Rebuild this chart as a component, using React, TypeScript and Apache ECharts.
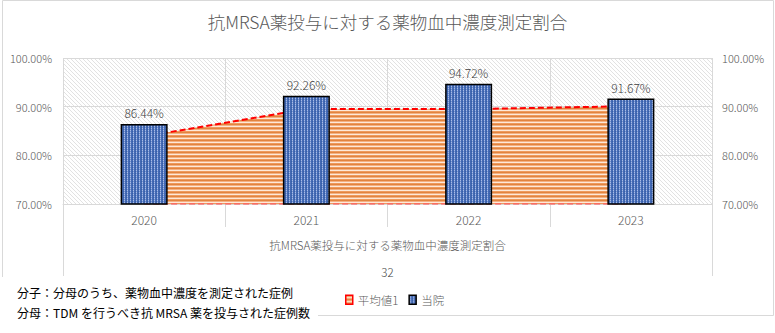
import React, { useEffect, useRef } from 'react';
import * as echarts from 'echarts';

const categories = ['2020', '2021', '2022', '2023'];
const hospitalValues = [86.44, 92.26, 94.72, 91.67];
const averageValues = [83.9, 89.5, 89.5, 90.1];
const yMin = 70;
const yMax = 100;
const yInterval = 10;
const titleText = '抗MRSA薬投与に対する薬物血中濃度測定割合';
const groupLabels = ['抗MRSA薬投与に対する薬物血中濃度測定割合'];
const axisNameText = '32';
const seriesNames = ['平均値1', '当院'];
const noteLines = [
  '分子：分母のうち、薬物血中濃度を測定された症例',
  '分母：TDM を行うべき抗 MRSA 薬を投与された症例数',
];

const FONT = '"Noto Sans CJK JP", "Noto Sans", sans-serif';

function makePattern(w: number, h: number, draw: (ctx: CanvasRenderingContext2D) => void) {
  const c = document.createElement('canvas');
  c.width = w;
  c.height = h;
  const ctx = c.getContext('2d')!;
  draw(ctx);
  return { image: c, repeat: 'repeat' as const };
}

export default function App() {
  const ref = useRef<HTMLDivElement>(null);
  useEffect(() => {
    if (!ref.current) return;
    const chart = echarts.init(ref.current, undefined, { renderer: 'svg' });

    const hatch = makePattern(4, 4, (ctx) => {
      ctx.fillStyle = '#ffffff';
      ctx.fillRect(0, 0, 4, 4);
      ctx.fillStyle = '#e2e2e2';
      for (let i = 0; i < 4; i++) ctx.fillRect(i, i, 1, 1);
    });
    const barPattern = makePattern(3, 2, (ctx) => {
      ctx.fillStyle = '#4469b4';
      ctx.fillRect(0, 0, 3, 2);
      ctx.fillStyle = '#a9bde6';
      ctx.fillRect(1, 0, 1, 1);
      ctx.fillStyle = '#7390cf';
      ctx.fillRect(1, 1, 1, 1);
      ctx.fillStyle = '#3660a8';
      ctx.fillRect(0, 1, 1, 1);
    });
    const stripes = makePattern(4, 4, (ctx) => {
      const rows = ['#e2843f', '#f4b183', '#fde9d9', '#ee9a5e'];
      rows.forEach((c, i) => {
        ctx.fillStyle = c;
        ctx.fillRect(0, i, 4, 1);
      });
    });

    const pct = (v: number) => v.toFixed(2) + '%';

    chart.setOption({
      animation: false,
      textStyle: { fontFamily: FONT },
      title: {
        text: titleText,
        left: 'center',
        top: 8,
        textStyle: { fontSize: 17.5, color: '#595959', fontWeight: 300, fontFamily: FONT },
      },
      legend: {
        left: 340,
        top: 289,
        itemWidth: 7,
        itemHeight: 9,
        itemGap: 10,
        textStyle: { fontSize: 11.5, color: '#595959', fontWeight: 300, fontFamily: FONT },
        data: [
          { name: seriesNames[0], icon: 'rect', itemStyle: { color: stripes, borderColor: '#ff0000', borderWidth: 1.5 } },
          { name: seriesNames[1], icon: 'rect', itemStyle: { color: barPattern, borderColor: '#000000', borderWidth: 1.5 } },
        ],
      },
      grid: {
        left: 63,
        right: 63,
        top: 58,
        bottom: 129,
        show: true,
        backgroundColor: hatch,
        borderWidth: 0,
      },
      xAxis: [
        {
          type: 'category',
          data: categories,
          position: 'bottom',
          boundaryGap: true,
          axisLine: { show: true, lineStyle: { color: '#d9d9d9', width: 1 } },
          axisTick: { show: true, length: 23, alignWithLabel: false, lineStyle: { color: '#d9d9d9' } },
          axisLabel: { margin: 9, fontSize: 12, color: '#595959', fontWeight: 300, fontFamily: FONT },
          splitLine: { show: true, lineStyle: { color: '#d9d9d9', width: 1 } },
        },
        {
          type: 'category',
          data: groupLabels,
          position: 'bottom',
          offset: 0,
          boundaryGap: true,
          axisLine: { show: false },
          axisTick: { show: true, length: 72, alignWithLabel: false, lineStyle: { color: '#d9d9d9' } },
          axisLabel: { margin: 35, fontSize: 11.5, color: '#595959', fontWeight: 300, fontFamily: FONT },
          splitLine: { show: false },
          name: axisNameText,
          nameLocation: 'middle',
          nameGap: 62,
          nameTextStyle: { fontSize: 11.5, color: '#404040', fontWeight: 300, fontFamily: FONT },
        },
      ],
      yAxis: [
        {
          type: 'value',
          min: yMin,
          max: yMax,
          interval: yInterval,
          position: 'left',
          axisLine: { show: false },
          axisTick: { show: false },
          axisLabel: { margin: 11, fontSize: 11, color: '#595959', fontWeight: 300, formatter: pct, fontFamily: FONT },
          splitLine: { show: true, lineStyle: { color: '#d9d9d9', width: 1 } },
        },
        {
          type: 'value',
          min: yMin,
          max: yMax,
          interval: yInterval,
          position: 'right',
          axisLine: { show: false },
          axisTick: { show: false },
          axisLabel: { margin: 10, fontSize: 11, color: '#595959', fontWeight: 300, formatter: pct, fontFamily: FONT },
          splitLine: { show: false },
        },
      ],
      series: [
        {
          name: seriesNames[0],
          type: 'line',
          data: averageValues,
          xAxisIndex: 0,
          yAxisIndex: 0,
          symbol: 'none',
          z: 2,
          lineStyle: { color: '#ff0000', width: 2, type: [6, 3] },
          itemStyle: { color: '#e07b39' },
          areaStyle: { color: stripes, opacity: 1, origin: 'start' },
        },
        {
          name: 'base',
          type: 'line',
          data: averageValues.map(() => yMin),
          xAxisIndex: 0,
          yAxisIndex: 0,
          symbol: 'none',
          z: 2,
          silent: true,
          lineStyle: { color: '#ff6060', width: 1.5, type: [6, 3] },
        },
        {
          name: seriesNames[1],
          type: 'bar',
          data: hospitalValues,
          xAxisIndex: 0,
          yAxisIndex: 0,
          barWidth: 47,
          z: 3,
          itemStyle: { color: barPattern, borderColor: '#000000', borderWidth: 1.5 },
          label: {
            show: true,
            position: 'top',
            distance: 5,
            formatter: (p: any) => pct(p.value),
            fontSize: 12,
            color: '#404040',
            fontWeight: 300,
            fontFamily: FONT,
          },
        },
      ],
      graphic: [
        {
          type: 'rect',
          silent: true,
          z: -1,
          shape: { x: 2.5, y: 0.5, width: 771, height: 315 },
          style: { fill: 'none', stroke: '#d9d9d9', lineWidth: 1 },
        },
        {
          type: 'rect',
          silent: true,
          z: 100,
          shape: { x: 0, y: 277, width: 318, height: 56 },
          style: { fill: '#ffffff' },
        },
        {
          type: 'text',
          silent: true,
          z: 101,
          x: 17,
          y: 292,
          style: { text: noteLines[0], fill: '#000000', font: '400 12px ' + FONT, verticalAlign: 'middle' },
        },
        {
          type: 'text',
          silent: true,
          z: 101,
          x: 17,
          y: 312,
          style: { text: noteLines[1], fill: '#000000', font: '400 12px ' + FONT, verticalAlign: 'middle' },
        },
      ],
    });
    return () => chart.dispose();
  }, []);
  return (
    <div
      ref={ref}
      style={{ position: 'fixed', left: 0, top: 0, width: 775, height: 333, background: '#ffffff' }}
    />
  );
}
